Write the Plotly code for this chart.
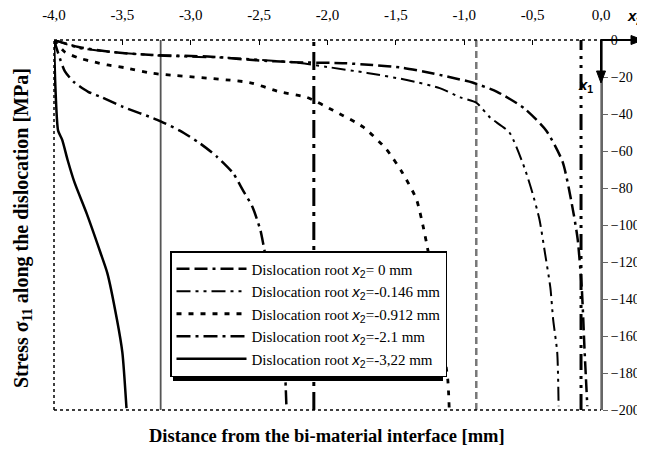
import plotly.graph_objects as go

# ---------------- data ----------------
roots = [0.0, -0.146, -0.912, -2.1, -3.22]
labels = [
    "Dislocation root <span style='font-family:Liberation Sans'><i>x</i><sub>2</sub></span>= 0 mm",
    "Dislocation root <span style='font-family:Liberation Sans'><i>x</i><sub>2</sub></span>=-0.146 mm",
    "Dislocation root <span style='font-family:Liberation Sans'><i>x</i><sub>2</sub></span>=-0.912 mm",
    "Dislocation root <span style='font-family:Liberation Sans'><i>x</i><sub>2</sub></span>=-2.1 mm",
    "Dislocation root <span style='font-family:Liberation Sans'><i>x</i><sub>2</sub></span>=-3,22 mm",
]

x_r0 = [-4.0, -3.82, -3.58, -3.31, -2.85, -2.52, -2.25, -1.89, -1.67, -1.45, -1.30, -1.11,
        -0.94, -0.76, -0.56, -0.40, -0.28, -0.20, -0.17, -0.14, -0.12, -0.10]
y_r0 = [0.0, -3.8, -6.5, -8.0, -9.0, -11.0, -12.0, -12.5, -13.5, -15.0, -17.0, -20.0,
        -23.0, -28.0, -37.0, -49.0, -66.0, -94.0, -108.0, -135.0, -168.0, -198.0]

x_r146 = [-4.0, -3.82, -3.58, -3.19, -2.70, -2.20, -2.00, -1.71, -1.42, -1.18, -1.03, -0.91,
          -0.81, -0.67, -0.56, -0.50, -0.45, -0.41, -0.37, -0.35, -0.32, -0.31]
y_r146 = [0.0, -4.3, -6.5, -8.6, -9.7, -12.4, -14.6, -17.8, -21.6, -26.0, -31.0, -34.0,
          -42.0, -50.0, -69.0, -83.0, -97.0, -115.0, -134.0, -151.0, -169.0, -198.0]

x_r912 = [-4.0, -3.92, -3.82, -3.70, -3.61, -3.48, -3.28, -2.57, -2.35, -2.15, -1.96, -1.74,
          -1.57, -1.45, -1.35, -1.30, -1.27, -1.20, -1.16, -1.12, -1.11]
y_r912 = [0.0, -6.5, -9.7, -12.0, -13.5, -15.0, -18.0, -23.0, -28.0, -31.0, -38.0, -47.0,
          -59.0, -72.0, -86.0, -101.0, -112.0, -140.0, -162.0, -184.0, -199.0]

x_r21 = [-4.0, -3.92, -3.85, -3.75, -3.65, -3.50, -3.25, -3.08, -2.93, -2.81, -2.69, -2.62,
         -2.55, -2.49, -2.46, -2.38, -2.33, -2.31, -2.30]
y_r21 = [0.0, -17.0, -23.0, -28.0, -31.0, -36.0, -43.0, -49.0, -56.0, -63.0, -72.0, -81.0,
         -90.0, -103.0, -114.0, -140.0, -160.0, -180.0, -199.0]

x_r322 = [-4.0, -3.99, -3.97, -3.94, -3.90, -3.85, -3.76, -3.66, -3.61, -3.54, -3.50, -3.47]
y_r322 = [0.0, -25.0, -49.0, -54.0, -65.0, -77.0, -94.0, -115.0, -126.0, -151.0, -169.0, -199.0]

curves_x = [x_r0, x_r146, x_r912, x_r21, x_r322]
curves_y = [y_r0, y_r146, y_r912, y_r21, y_r322]

x_ticks = [-4.0, -3.5, -3.0, -2.5, -2.0, -1.5, -1.0, -0.5, 0.0]
x_ticktext = ["-4,0", "-3,5", "-3,0", "-2,5", "-2,0", "-1,5", "-1,0", "-0,5", "0,0"]
y_ticks = [0, -20, -40, -60, -80, -100, -120, -140, -160, -180, -200]
x_range = [-4.0, 0.0]
y_range = [-200, 0]

# ---------------- styles ----------------
curve_styles = [
    dict(color="black", width=2.5, dash="13px,5px,13px,5px,3px,5px"),
    dict(color="black", width=2.0, dash="14px,5px,3px,5px,3px,5px"),
    dict(color="black", width=2.8, dash="5px,7px"),
    dict(color="black", width=2.5, dash="14px,5px,3px,5px"),
    dict(color="black", width=2.5, dash="solid"),
]
root_styles = [
    dict(color="#777777", width=1.5, dash="solid"),
    dict(color="black", width=3.0, dash="16px,6px,3px,6px,3px,6px"),
    dict(color="#777777", width=2.5, dash="7px,4px"),
    dict(color="black", width=3.0, dash="18px,6px,4px,6px"),
    dict(color="#555555", width=1.8, dash="solid"),
]

fig = go.Figure()
for i in range(len(roots)):
    fig.add_trace(go.Scatter(
        x=[roots[i], roots[i]], y=y_range, mode="lines",
        line=root_styles[i], showlegend=False, legendgroup=str(i), hoverinfo="skip"))
for i in range(len(roots)):
    fig.add_trace(go.Scatter(
        x=curves_x[i], y=curves_y[i], mode="lines", name=labels[i],
        line=dict(shape="spline", smoothing=0.6, **curve_styles[i]), legendgroup=str(i)))

serif = "Liberation Serif"
sans = "Liberation Sans"
PW, PH = 547.0, 370.0  # plot area size in px
# The page body adds an 8px offset, so the figure is drawn at (8, 8) on the page.
L, T = 54 - 8, 40 - 8


def px_x(p):  # pixel offset from plot left -> paper
    return p / PW


def px_y(p):  # pixel offset from plot bottom -> paper
    return p / PH


arrow_shapes = [
    dict(type="line", xref="paper", yref="paper", x0=1.0, x1=px_x(633 - 54), y0=1.0, y1=1.0,
         line=dict(color="black", width=2)),
    dict(type="path", xref="paper", yref="paper",
         path=f"M {px_x(643-54)},1 L {px_x(631-54)},{1+px_y(4.5)} L {px_x(631-54)},{1-px_y(4.5)} Z",
         fillcolor="black", line=dict(color="black", width=1)),
    dict(type="line", xref="paper", yref="paper", x0=1.0, x1=1.0, y0=1.0, y1=px_y(410 - 73),
         line=dict(color="black", width=2)),
    dict(type="path", xref="paper", yref="paper",
         path=f"M 1,{px_y(410-83)} L {1-px_x(4.5)},{px_y(410-71)} L {1+px_x(4.5)},{px_y(410-71)} Z",
         fillcolor="black", line=dict(color="black", width=1)),
]

# legend drop shadow (page px box approx 170-440 x 251-378, shifted by 3px)
shadow = dict(type="rect", xref="paper", yref="paper", layer="above",
              x0=px_x(173 - 54), x1=px_x(443 - 54), y0=px_y(410 - 381), y1=px_y(410 - 254),
              fillcolor="black", line=dict(width=0))

fig.update_layout(
    width=637, height=442,
    margin=dict(l=L, r=44, t=T, b=40, autoexpand=False),
    paper_bgcolor="white", plot_bgcolor="white",
    font=dict(family=serif, size=14, color="black"),
    showlegend=True,
    legend=dict(x=px_x(170 - 54), y=px_y(410 - 251), xanchor="left", yanchor="top",
                bgcolor="white", bordercolor="black", borderwidth=1.5,
                font=dict(family=serif, size=15), itemwidth=70,
                tracegroupgap=0),
    xaxis=dict(range=x_range, side="top", showgrid=False, zeroline=False, showline=False,
               automargin=False, ticklabelstandoff=16,
               tickvals=x_ticks, ticktext=x_ticktext, ticks="inside", ticklen=5,
               tickcolor="black", tickwidth=1, tickfont=dict(family=serif, size=15)),
    yaxis=dict(range=y_range, side="right", showgrid=False, zeroline=False, automargin=False,
               showline=True, linecolor="#666666", linewidth=2,
               tickvals=y_ticks, ticks="outside", ticklen=5, tickcolor="#666666",
               tickfont=dict(family=serif, size=14)),
    shapes=[
        dict(type="line", xref="paper", yref="paper", x0=0, x1=1, y0=1, y1=1,
             line=dict(color="black", width=1.5, dash="dot")),
        dict(type="line", xref="paper", yref="paper", x0=0, x1=1, y0=0, y1=0,
             line=dict(color="black", width=1.5, dash="dot")),
        dict(type="line", xref="paper", yref="paper", x0=0, x1=0, y0=0, y1=1,
             line=dict(color="black", width=1.5, dash="dot")),
        shadow,
    ] + arrow_shapes,
    annotations=[
        dict(text="<b>Distance from the bi-material interface [mm]</b>", xref="paper", yref="paper",
             x=px_x(327 - 54), y=-px_y(26), xanchor="center", yanchor="middle", showarrow=False,
             font=dict(family=serif, size=18.5)),
        dict(text="<b>Stress σ<sub>11</sub> along the dislocation [MPa]</b>", xref="paper", yref="paper",
             x=-px_x(31), y=px_y(410 - 228), xanchor="center", yanchor="middle", textangle=-90,
             showarrow=False, font=dict(family=serif, size=20)),
        dict(text="<b><i>x</i></b>", xref="paper", yref="paper", x=px_x(632 - 54),
             y=1 + px_y(40 - 15), xanchor="center", yanchor="middle", showarrow=False,
             font=dict(family=sans, size=15)),
        dict(text="<b>2</b>", xref="paper", yref="paper", x=px_x(639 - 54),
             y=1 + px_y(40 - 21), xanchor="center", yanchor="middle", showarrow=False,
             font=dict(family=sans, size=10)),
        dict(text="<b><i>x</i><sub>1</sub></b>", xref="paper", yref="paper", x=px_x(585 - 54),
             y=px_y(410 - 85), xanchor="center", yanchor="middle", showarrow=False,
             font=dict(family=sans, size=15)),
    ],
)

fig.write_html(
    "out.html",
    post_script="document.documentElement.style.overflow='hidden';"
                "document.body.style.overflow='hidden';",
)
